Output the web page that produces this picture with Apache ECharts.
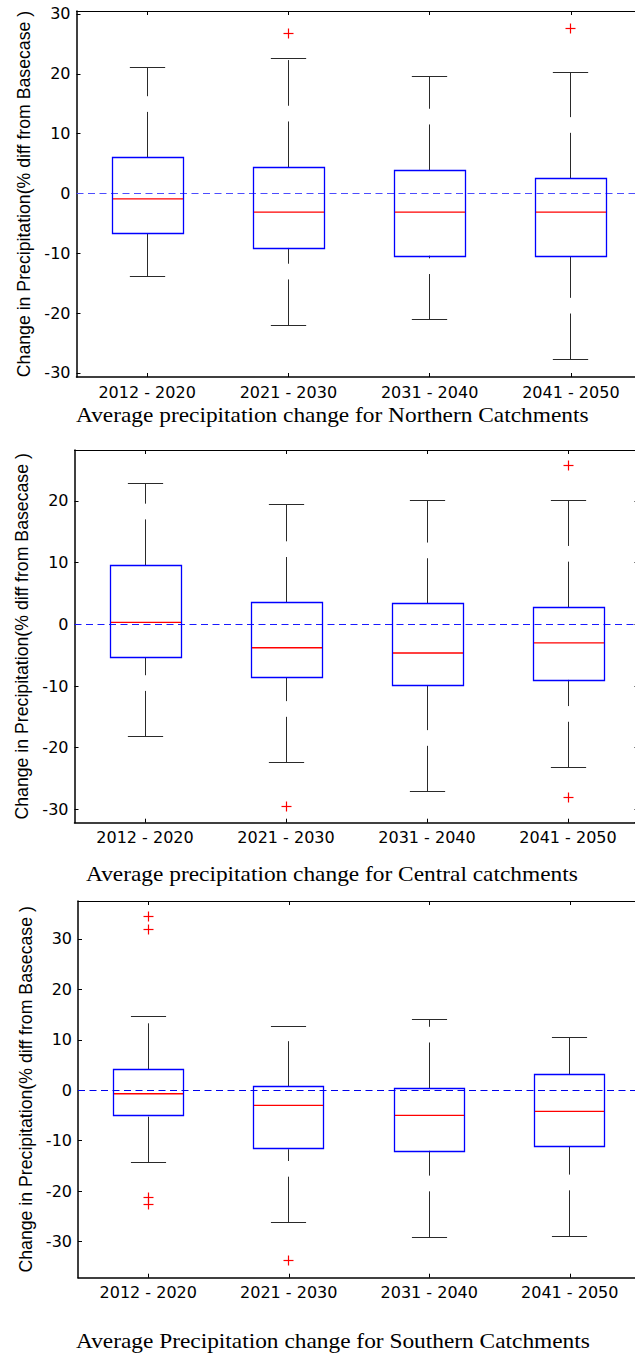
<!DOCTYPE html>
<html><head><meta charset="utf-8">
<script src="https://cdn.jsdelivr.net/npm/echarts@6/dist/echarts.min.js"></script>
<style>html,body{margin:0;padding:0;background:#fff;overflow:hidden;width:635px;height:1356px}#c{width:660px;height:1356px}</style>
</head><body><div id="c"></div>
<script>
// ---- data ----
const categories = ['2012 - 2020', '2021 - 2030', '2031 - 2040', '2041 - 2050'];

const northLow = [-13.8, -22.0, -21.1, -27.7];
const northQ1 = [-6.75, -9.1, -10.4, -10.6];
const northMed = [-0.9, -3.1, -3.1, -3.1];
const northQ3 = [6.0, 4.4, 3.9, 2.5];
const northHigh = [21.1, 22.5, 19.5, 20.2];
const northOutCat = [1, 3];
const northOutVal = [26.7, 27.6];

const centralLow = [-18.2, -22.4, -27.1, -23.2];
const centralQ1 = [-5.35, -8.65, -10.0, -9.0];
const centralMed = [0.3, -3.8, -4.65, -3.0];
const centralQ3 = [9.6, 3.5, 3.3, 2.75];
const centralHigh = [22.9, 19.35, 20.1, 20.1];
const centralOutCat = [1, 3, 3];
const centralOutVal = [-29.5, 25.7, -28.05];

const southLow = [-14.3, -26.2, -29.1, -28.9];
const southQ1 = [-5.0, -11.7, -12.0, -11.1];
const southMed = [-0.7, -3.0, -5.0, -4.2];
const southQ3 = [4.2, 0.66, 0.4, 3.2];
const southHigh = [14.6, 12.6, 14.1, 10.4];
const southOutCat = [0, 0, 0, 0, 1];
const southOutVal = [34.4, 31.8, -21.2, -22.6, -33.8];

const zeroLine = [0];

const yTitle = 'Change in Precipitation(% diff from Basecase )';
const subtitles = [
  'Average precipitation change for Northern Catchments',
  'Average precipitation change for Central catchments',
  'Average Precipitation change for Southern Catchments'
];

// ---- layout / style ----
const panels = [
  {low: northLow, q1: northQ1, med: northMed, q3: northQ3, high: northHigh, oc: northOutCat, ov: northOutVal,
   grid: {left: 76.5, top: 11, width: 565, height: 366}, yMin: -30.67, yMax: 30.5, zero: '#4d4dff', sub: {x: 76, y: 415.3}},
  {low: centralLow, q1: centralQ1, med: centralMed, q3: centralQ3, high: centralHigh, oc: centralOutCat, ov: centralOutVal,
   grid: {left: 74.5, top: 450, width: 564, height: 372.7}, yMin: -32.15, yMax: 28.25, zero: '#1a1aff', sub: {x: 86, y: 874.5}},
  {low: southLow, q1: southQ1, med: southMed, q3: southQ3, high: southHigh, oc: southOutCat, ov: southOutVal,
   grid: {left: 78, top: 901, width: 562, height: 376.7}, yMin: -37.16, yMax: 37.5, zero: '#0000ee', sub: {x: 76, y: 1341.1}}
];

const tickFont = 'DejaVu Sans';
const px = v => Math.round(v - 0.5) + 0.5;

function boxRender(params, api) {
  const i = api.value(0);
  const band = api.size([1, 0])[0];
  const pLow = api.coord([i, api.value(1)]);
  const pQ1 = api.coord([i, api.value(2)]);
  const pMed = api.coord([i, api.value(3)]);
  const pQ3 = api.coord([i, api.value(4)]);
  const pHigh = api.coord([i, api.value(5)]);
  const x = px(pLow[0]);
  const hb = band * 0.25, hc = band * 0.125;
  const bx = px(x - hb), bw = Math.round(2 * hb);
  return {type: 'group', children: [
    {type: 'line', shape: {x1: x, y1: pLow[1], x2: x, y2: pQ1[1]},
      style: {stroke: '#2a2a2a', fill: null, lineWidth: 1, lineDash: [45.7, 15.7]}},
    {type: 'line', shape: {x1: x, y1: pQ3[1], x2: x, y2: pHigh[1]},
      style: {stroke: '#2a2a2a', fill: null, lineWidth: 1, lineDash: [45.7, 15.7]}},
    {type: 'line', shape: {x1: x - hc, y1: px(pLow[1]), x2: x + hc, y2: px(pLow[1])},
      style: {stroke: '#2a2a2a', fill: null, lineWidth: 1}},
    {type: 'line', shape: {x1: x - hc, y1: px(pHigh[1]), x2: x + hc, y2: px(pHigh[1])},
      style: {stroke: '#2a2a2a', fill: null, lineWidth: 1}},
    {type: 'rect', shape: {x: bx, y: px(pQ3[1]), width: bw, height: Math.round(pQ1[1] - pQ3[1])},
      style: {fill: 'none', stroke: '#0000ff', lineWidth: 1.3}},
    {type: 'line', shape: {x1: bx + 0.5, y1: pMed[1], x2: bx + bw - 0.5, y2: pMed[1]},
      style: {stroke: '#ff0000', fill: null, lineWidth: 1.3}}
  ]};
}

function outRender(params, api) {
  const p = api.coord([api.value(0), api.value(1)]);
  const x = px(p[0]), y = px(p[1]), r = 5;
  return {type: 'group', children: [
    {type: 'line', shape: {x1: x - r, y1: y, x2: x + r, y2: y}, style: {stroke: '#ff0000', fill: null, lineWidth: 1.2}},
    {type: 'line', shape: {x1: x, y1: y - r, x2: x, y2: y + r}, style: {stroke: '#ff0000', fill: null, lineWidth: 1.2}}
  ]};
}

function zeroRender(color) {
  return function (params, api) {
    const cs = params.coordSys;
    const y = px(api.coord([0, api.value(0)])[1]);
    return {type: 'line', shape: {x1: cs.x, y1: y, x2: cs.x + cs.width, y2: y},
      style: {stroke: color, fill: null, lineWidth: 1.2, lineDash: [7, 4.5]}};
  };
}

const grid = [], xAxis = [], yAxis = [], series = [], graphic = [];
panels.forEach((p, k) => {
  grid.push(Object.assign({containLabel: false, outerBoundsMode: 'none'}, p.grid));
  const tickStyle = {color: '#000', width: 1};
  xAxis.push({type: 'category', gridIndex: k, data: categories, position: 'bottom', boundaryGap: true,
    axisLine: {show: true, onZero: false, lineStyle: {color: '#000', width: 1.5}},
    axisTick: {show: true, inside: true, length: 4, alignWithLabel: true, lineStyle: tickStyle},
    axisLabel: {show: true, color: '#000', fontFamily: tickFont, fontSize: 16, margin: 7, interval: 0},
    splitLine: {show: false}});
  xAxis.push({type: 'category', gridIndex: k, data: categories, position: 'top', boundaryGap: true,
    axisLine: {show: true, onZero: false, lineStyle: {color: '#000', width: 1}},
    axisTick: {show: true, inside: true, length: 4, alignWithLabel: true, lineStyle: tickStyle},
    axisLabel: {show: false}, splitLine: {show: false}});
  yAxis.push({type: 'value', gridIndex: k, position: 'left', min: p.yMin, max: p.yMax, splitNumber: 7,
    axisLine: {show: true, onZero: false, lineStyle: {color: '#000', width: 1.5}},
    axisTick: {show: true, inside: true, length: 4, lineStyle: tickStyle},
    axisLabel: {show: true, color: '#000', fontFamily: tickFont, fontSize: 16, margin: 6, showMinLabel: false, showMaxLabel: false},
    splitLine: {show: false},
    name: yTitle, nameLocation: 'middle', nameRotate: 90, nameGap: 42,
    nameTextStyle: {color: '#000', fontFamily: 'Liberation Sans', fontSize: 17.7}});
  yAxis.push({type: 'value', gridIndex: k, position: 'right', min: p.yMin, max: p.yMax, splitNumber: 7,
    axisLine: {show: true, onZero: false, lineStyle: {color: '#000', width: 1}},
    axisTick: {show: true, inside: true, length: 4, lineStyle: tickStyle},
    axisLabel: {show: false}, splitLine: {show: false}});

  series.push({type: 'custom', xAxisIndex: 2 * k, yAxisIndex: 2 * k, renderItem: zeroRender(p.zero),
    data: zeroLine.map(v => [v]), encode: {y: 0}, silent: true, z: 2});
  const boxData = categories.map((c, i) => [i, p.low[i], p.q1[i], p.med[i], p.q3[i], p.high[i]]);
  series.push({type: 'custom', xAxisIndex: 2 * k, yAxisIndex: 2 * k, renderItem: boxRender, data: boxData,
    encode: {x: 0, y: [1, 2, 3, 4, 5]}, silent: true, z: 3});
  series.push({type: 'custom', xAxisIndex: 2 * k, yAxisIndex: 2 * k, renderItem: outRender,
    data: p.oc.map((c, i) => [c, p.ov[i]]), encode: {x: 0, y: 1}, silent: true, z: 4});

  graphic.push({type: 'text', x: p.sub.x, y: p.sub.y, scaleX: 1.14,
    style: {text: subtitles[k], fill: '#000', font: '20.5px "Liberation Serif"', textAlign: 'left', verticalAlign: 'middle'}});
});

const chart = echarts.init(document.getElementById('c'), null, {renderer: 'svg'});
chart.setOption({animation: false, backgroundColor: '#fff', grid, xAxis, yAxis, series, graphic});
</script>
</body></html>
